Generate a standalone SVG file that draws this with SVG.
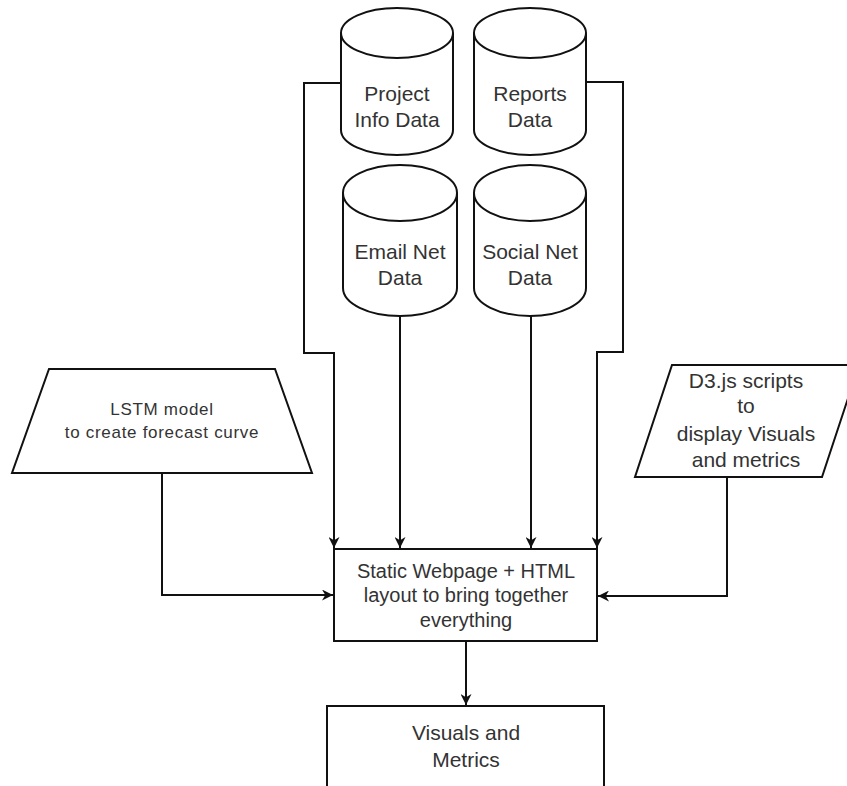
<svg xmlns="http://www.w3.org/2000/svg" width="847" height="786" viewBox="0 0 847 786">
<defs>
<style>
.shape{fill:#fff;stroke:#111;stroke-width:2}
.txt{font-family:"Liberation Sans",Arial,sans-serif;font-size:21px;fill:#333;text-anchor:middle}
.small{font-size:17px;letter-spacing:0.7px}
.conn{fill:none;stroke:#111;stroke-width:2}
</style>
<marker id="arr" viewBox="0 0 10 10" refX="10" refY="5" markerWidth="12" markerHeight="11" orient="auto" markerUnits="userSpaceOnUse">
<path d="M0,0 L10,5 L0,10 L3,5 Z" fill="#111"/>
</marker>
</defs>
<rect width="847" height="786" fill="#fff"/>
<g id="connectors">
<path class="conn" d="M340,83 H304 V353 H334 V548" marker-end="url(#arr)"/>
<path class="conn" d="M587,82 H623 V352 H597 V548" marker-end="url(#arr)"/>
<path class="conn" d="M400,315 V548" marker-end="url(#arr)"/>
<path class="conn" d="M531,315 V548" marker-end="url(#arr)"/>
<path class="conn" d="M162,473 V595 H333" marker-end="url(#arr)" stroke="#555"/>
<path class="conn" d="M727,477 V596 H598" marker-end="url(#arr)"/>
<path class="conn" d="M466,641 V705" marker-end="url(#arr)"/>
</g>
<g id="project-info">
<path class="shape" d="M341,33 A56,25 0 0 1 453,33 V130 A56,25 0 0 1 341,130 Z"/>
<path class="shape" fill="none" d="M341,33 A56,25 0 0 0 453,33"/>
<text class="txt" x="397" y="101">Project</text>
<text class="txt" x="397" y="127">Info Data</text>
</g>
<g id="reports">
<path class="shape" d="M474,33 A56,25 0 0 1 586,33 V130 A56,25 0 0 1 474,130 Z"/>
<path class="shape" fill="none" d="M474,33 A56,25 0 0 0 586,33"/>
<text class="txt" x="530" y="101">Reports</text>
<text class="txt" x="530" y="127">Data</text>
</g>
<g id="email-net">
<path class="shape" d="M343,193 A57,28 0 0 1 457,193 V288 A57,28 0 0 1 343,288 Z"/>
<path class="shape" fill="none" d="M343,193 A57,28 0 0 0 457,193"/>
<text class="txt" x="400" y="259">Email Net</text>
<text class="txt" x="400" y="285">Data</text>
</g>
<g id="social-net">
<path class="shape" d="M474,193 A56,28 0 0 1 586,193 V288 A56,28 0 0 1 474,288 Z"/>
<path class="shape" fill="none" d="M474,193 A56,28 0 0 0 586,193"/>
<text class="txt" x="530" y="259">Social Net</text>
<text class="txt" x="530" y="285">Data</text>
</g>
<g id="lstm">
<polygon class="shape" points="49,369 275,369 312,473 12,473"/>
<text class="txt small" x="162" y="415">LSTM model</text>
<text class="txt small" x="162" y="438">to create forecast curve</text>
</g>
<g id="d3">
<polygon class="shape" points="672,365 859,365 822,477 635,477"/>
<text class="txt" x="746" y="388">D3.js scripts</text>
<text class="txt" x="746" y="413">to</text>
<text class="txt" x="746" y="441">display Visuals</text>
<text class="txt" x="746" y="467">and metrics</text>
</g>
<g id="static-webpage">
<rect class="shape" x="334" y="549" width="263" height="92"/>
<text class="txt" style="font-size:20px" x="466" y="578">Static Webpage + HTML</text>
<text class="txt" style="font-size:20px" x="466" y="602">layout to bring together</text>
<text class="txt" style="font-size:20px" x="466" y="627">everything</text>
</g>
<g id="visuals">
<rect class="shape" x="327" y="706" width="277" height="100"/>
<text class="txt" x="466" y="740">Visuals and</text>
<text class="txt" x="466" y="767">Metrics</text>
</g>
</svg>
